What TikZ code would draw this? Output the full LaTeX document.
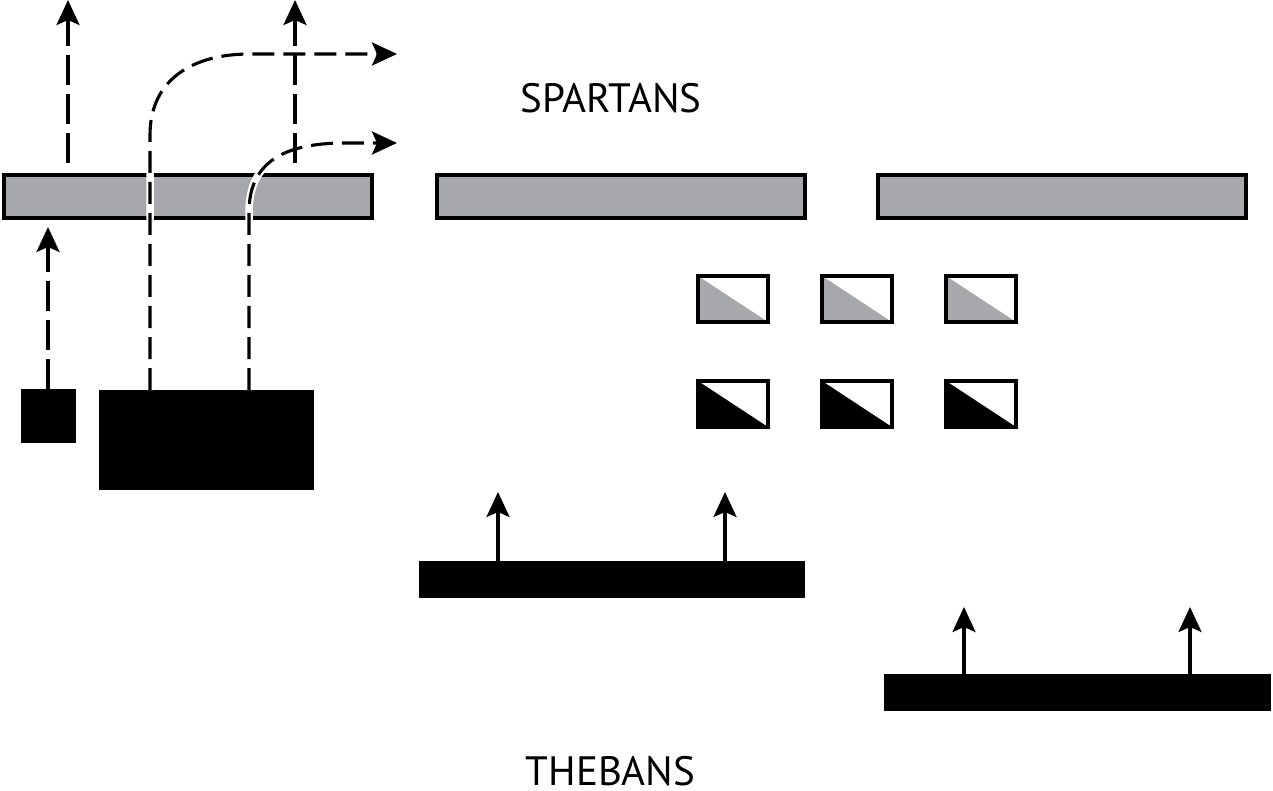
\documentclass[tikz,border=0pt]{standalone}
\usepackage{fontspec}
\newfontfamily\lab{PT Sans}
\usetikzlibrary{arrows.meta,calc}
\definecolor{bargray}{HTML}{A7A8AB}
\tikzset{
  graybar/.style={draw=black, fill=bargray, line width=3.2pt, minimum width=368pt, minimum height=43pt, inner sep=0pt, outer sep=0pt},
  blk/.style={fill=black, inner sep=0pt, outer sep=0pt},
  halfbox/.style={draw=black, fill=white, line width=3.2pt, minimum width=70pt, minimum height=46pt, inner sep=0pt, outer sep=0pt,
    path picture={\fill[#1] (path picture bounding box.north west) -- (path picture bounding box.south east) -- (path picture bounding box.south west) -- cycle;}},
  tip/.style={-{Stealth[length=25pt,width=23pt,inset=5pt]}},
  dashline/.style={line width=3.1pt, dash pattern=on 30pt off 9pt},
  curveline/.style={line width=3.1pt, dash pattern=on 22pt off 9pt,
    preaction={draw=white, line width=7.5pt, solid}},
  solidarrow/.style={tip, line width=3.1pt},
  lbl/.style={font=\lab\fontsize{41}{45}\selectfont, inner sep=0pt, anchor=base}
}
\begin{document}
\begin{tikzpicture}[x=1pt,y=-1pt]
\useasboundingbox (0,0) rectangle (1273,791);
% gray bars
\node[graybar] (bar1) at (188,196.5) {};
\node[graybar] (bar2) at (621,196.5) {};
\node[graybar] (bar3) at (1062,196.5) {};
% labels
\node[lbl] (sp) at (611,113) {SPARTANS};
\node[lbl] (th) at (610.5,785) {THEBANS};
% black units left
\node[blk, minimum width=55pt, minimum height=54pt] (sq) at (48.5,416) {};
\node[blk, minimum width=215pt, minimum height=100pt] (big) at (206.5,440) {};
% half boxes
\node[halfbox=bargray] (g1) at (733,299) {};
\node[halfbox=bargray] (g2) at (857,299) {};
\node[halfbox=bargray] (g3) at (981,299) {};
\node[halfbox=black] (k1) at (733,404) {};
\node[halfbox=black] (k2) at (857,404) {};
\node[halfbox=black] (k3) at (981,404) {};
% black bars right
\node[blk, minimum width=386pt, minimum height=37pt] (tb1) at (612,579.5) {};
\node[blk, minimum width=387pt, minimum height=37pt] (tb2) at (1077.5,692.5) {};
% coordinates
\coordinate (a1) at (48,227);
\coordinate (c1x) at (150,0);
\coordinate (c2x) at (249,0);
\coordinate (e1) at (397,54);
\coordinate (e2) at (397,143);
\coordinate (v1s) at (68,163);
\coordinate (v1e) at (68,0);
\coordinate (v2s) at (295,163);
\coordinate (v2e) at (295,0);
\coordinate (t1) at (498,492);
\coordinate (t2) at (725,492);
\coordinate (t3) at (964,607);
\coordinate (t4) at (1190,607);
% curved dashed routes
\draw[curveline, tip] (big.north -| c1x) -- (150,135) .. controls (150,80) and (192,54) .. (250,54) -- (e1);
\draw[curveline, tip] (big.north -| c2x) -- (249,212) .. controls (249,165) and (280,143) .. (345,143) -- (e2);
% straight dashed arrows
\draw[dashline, tip] (sq.north -| a1) -- (a1);
\draw[dashline, tip] (v1s) -- (v1e);
\draw[dashline, tip] (v2s) -- (v2e);
% solid arrows
\draw[solidarrow] (tb1.north -| t1) -- (t1);
\draw[solidarrow] (tb1.north -| t2) -- (t2);
\draw[solidarrow] (tb2.north -| t3) -- (t3);
\draw[solidarrow] (tb2.north -| t4) -- (t4);
\end{tikzpicture}
\end{document}
